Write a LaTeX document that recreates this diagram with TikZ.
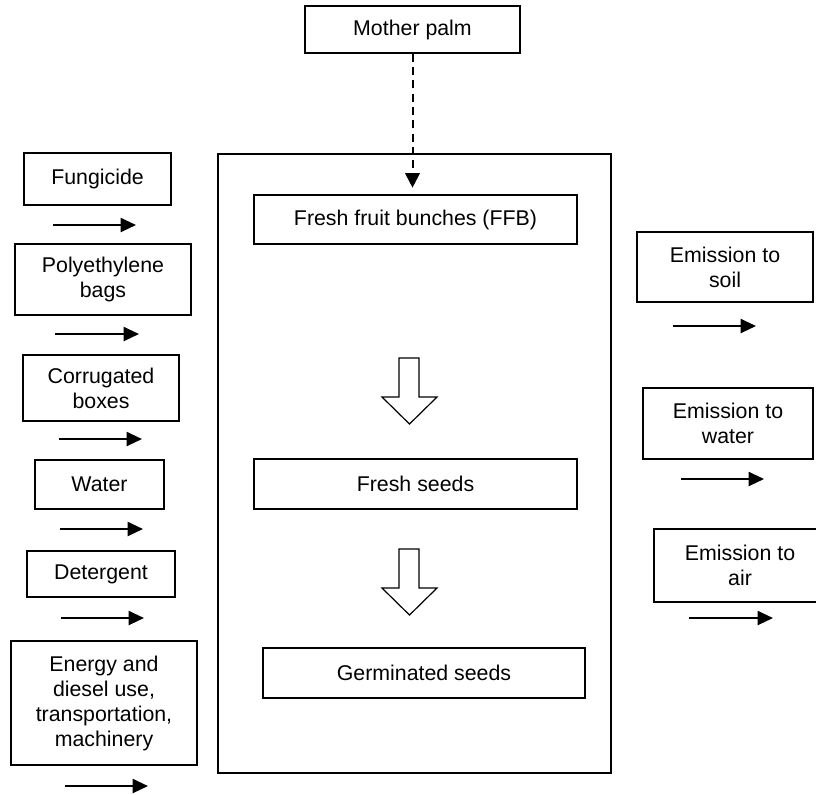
\documentclass[tikz,border=0pt]{standalone}
\usepackage{fontspec}
\setmainfont{Liberation Sans}
\usetikzlibrary{arrows.meta}
\begin{document}
\begin{tikzpicture}[x=0.75pt,y=-0.75pt,
  box/.style 2 args={draw, line width=1pt, minimum width=#1*0.75pt, minimum height=#2*0.75pt,
    inner sep=0pt, align=center, font=\fontsize{16}{18.75}\selectfont},
  flow/.style={line width=1.5pt, -{Triangle[length=11.5pt,width=10.5pt]}},
  feed/.style={line width=1.5pt, dash pattern=on 6pt off 4pt, -{Triangle[length=11pt,width=11pt]}, shorten >=5pt},
  blockarrow/.style={draw, line width=0.9pt, fill=white, line join=miter}]
\useasboundingbox (0,0) rectangle (816,794);

% system boundary
\node[box={393}{619}] (sys) at (414.5,463.5) {};

% central chain
\node[box={215}{47}] (mother) at (412.5,29.5) {Mother palm};
\node[box={323}{49}] (ffb) at (415.5,219.5) {Fresh fruit bunches (FFB)};
\node[box={323}{50}] (seeds) at (415.5,484) {Fresh seeds};
\node[box={322}{50}] (germ) at (424,673) {Germinated seeds};

\draw[feed] (mother.south) -- (mother.south |- ffb.north);

% block arrows
\foreach \t in {358,549}{
  \draw[blockarrow] (399,\t) -- (419,\t) -- (419,\t+39) -- (437,\t+39) -- (409.5,\t+66)
    -- (382,\t+39) -- (399,\t+39) -- cycle;
}

% inputs
\node[box={147}{52}] (fung) at (97.5,179) {Fungicide};
\node[box={176}{71}] (poly) at (103,279.5) {Polyethylene\\bags};
\node[box={156}{66}] (corr) at (101,388) {Corrugated\\boxes};
\node[box={129}{49}] (water) at (99.5,484.5) {Water};
\node[box={148}{46}] (det) at (101,574) {Detergent};
\node[box={186}{124}] (energy) at (104,703) {Energy and\\diesel use,\\transportation,\\machinery};

\coordinate (a1s) at (53,225);  \coordinate (a1e) at (136,225);
\coordinate (a2s) at (55,334);  \coordinate (a2e) at (139,334);
\coordinate (a3s) at (59,439);  \coordinate (a3e) at (142,439);
\coordinate (a4s) at (60,529);  \coordinate (a4e) at (143,529);
\coordinate (a5s) at (61,618);  \coordinate (a5e) at (144,618);
\coordinate (a6s) at (65,786);  \coordinate (a6e) at (148,786);
\foreach \i in {1,...,6}{ \draw[flow] (a\i s) -- (a\i e); }

% outputs
\node[box={176}{70}] (soil) at (725,267) {Emission to\\soil};
\node[box={170}{71}] (ewater) at (728,423.5) {Emission to\\water};
\node[box={172}{73}] (air) at (740,565.5) {Emission to\\air};

\coordinate (b1s) at (673,326); \coordinate (b1e) at (756,326);
\coordinate (b2s) at (681,479); \coordinate (b2e) at (764,479);
\coordinate (b3s) at (689,618); \coordinate (b3e) at (773,618);
\foreach \i in {1,2,3}{ \draw[flow] (b\i s) -- (b\i e); }
\end{tikzpicture}
\end{document}
